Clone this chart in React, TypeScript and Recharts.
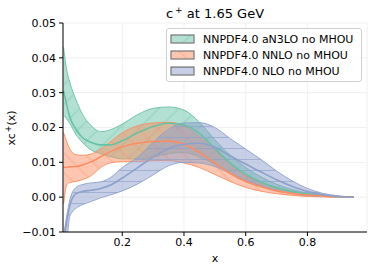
import React from 'react';
import { ComposedChart, Area, Line, XAxis, YAxis, CartesianGrid } from 'recharts';

// x grid
const xs = [0.01, 0.02, 0.03, 0.05, 0.07, 0.1, 0.13, 0.16, 0.2, 0.25, 0.3, 0.35, 0.4, 0.45, 0.5, 0.55, 0.6, 0.65, 0.7, 0.75, 0.8, 0.85, 0.9, 0.95];

// NNPDF4.0 aN3LO no MHOU
const gLo = [0.0235, 0.0225, 0.0212, 0.018, 0.0158, 0.0135, 0.0125, 0.0117, 0.011, 0.011, 0.0115, 0.0125, 0.0128, 0.0115, 0.0095, 0.0068, 0.0045, 0.003, 0.0018, 0.001, 0.0005, 0.0002, 0.0001, 0];
const gMid = [0.0305, 0.0265, 0.023, 0.0195, 0.0172, 0.0157, 0.015, 0.015, 0.0162, 0.0185, 0.0203, 0.0212, 0.0207, 0.0183, 0.014, 0.0098, 0.0066, 0.0043, 0.0027, 0.0016, 0.0009, 0.0004, 0.0001, 0];
const gHi = [0.043, 0.0365, 0.033, 0.028, 0.024, 0.0205, 0.0188, 0.0193, 0.021, 0.0237, 0.0255, 0.0259, 0.025, 0.0215, 0.0165, 0.012, 0.0085, 0.0058, 0.0037, 0.0022, 0.0012, 0.0005, 0.0002, 0];

// NNPDF4.0 NNLO no MHOU
const oLo = [-0.002, 0.0035, 0.0042, 0.0045, 0.005, 0.0062, 0.0085, 0.0098, 0.0102, 0.0102, 0.0105, 0.0105, 0.0098, 0.0085, 0.0065, 0.0045, 0.0028, 0.0017, 0.001, 0.0005, 0.0002, 0.0001, 0, 0];
const oMid = [0.0086, 0.0086, 0.0087, 0.0088, 0.0092, 0.0102, 0.0116, 0.013, 0.0145, 0.0155, 0.016, 0.0161, 0.0152, 0.0128, 0.0098, 0.0068, 0.0045, 0.003, 0.0018, 0.0011, 0.0006, 0.0003, 0.0001, 0];
const oHi = [0.0185, 0.016, 0.0138, 0.0122, 0.012, 0.0124, 0.0138, 0.0158, 0.0185, 0.0205, 0.0213, 0.0215, 0.0205, 0.0175, 0.0135, 0.0095, 0.0062, 0.0042, 0.0027, 0.0017, 0.001, 0.0005, 0.0002, 0];

// NNPDF4.0 NLO no MHOU
const bLo = [-0.018, -0.013, -0.0055, -0.0032, -0.0022, -0.0012, -0.0002, 0.0006, 0.0018, 0.0038, 0.0064, 0.009, 0.01, 0.0098, 0.0088, 0.0068, 0.0048, 0.0032, 0.002, 0.0011, 0.0005, 0.0002, 0.0001, 0];
const bMid = [-0.013, -0.007, -0.0025, 0.001, 0.0016, 0.002, 0.0025, 0.0034, 0.0055, 0.0085, 0.0115, 0.014, 0.0152, 0.0155, 0.0143, 0.0118, 0.0095, 0.0072, 0.005, 0.0031, 0.0016, 0.0007, 0.0002, 0];
const bHi = [-0.011, -0.0055, -0.0008, 0.0028, 0.0036, 0.0041, 0.0044, 0.0055, 0.0085, 0.0115, 0.0158, 0.0195, 0.0213, 0.0214, 0.02, 0.0168, 0.0138, 0.0108, 0.0075, 0.0047, 0.0025, 0.0011, 0.0004, 0];

const xTicks = [0.2, 0.4, 0.6, 0.8];
const yTicks = [-0.01, 0, 0.01, 0.02, 0.03, 0.04, 0.05];

const data = xs.map((x, i) => ({
    x,
    g: [gLo[i], gHi[i]],
    gm: gMid[i],
    o: [oLo[i], oHi[i]],
    om: oMid[i],
    b: [bLo[i], bHi[i]],
    bm: bMid[i],
}));

const FONT = "'DejaVu Sans', sans-serif";

// hatch: 'ne' = "/", 'nw' = "\", 'h' = "-"
const series = [
    { key: 'g', mid: 'gm', label: 'NNPDF4.0 aN3LO no MHOU', color: '#66c2a5', hatch: 'hatchG', kind: 'ne', gap: 14 },
    { key: 'o', mid: 'om', label: 'NNPDF4.0 NNLO no MHOU', color: '#fc8d62', hatch: 'hatchO', kind: 'nw', gap: 14 },
    { key: 'b', mid: 'bm', label: 'NNPDF4.0 NLO no MHOU', color: '#8da0cb', hatch: 'hatchB', kind: 'h', gap: 11 },
];

function Hatches({ suffix = '' }: { suffix?: string }) {
    return (
        <defs>
            {series.map((s) => {
                const g = s.gap;
                const rot = s.kind === 'ne' ? 45 : s.kind === 'nw' ? -45 : 0;
                return (
                    <pattern
                        key={s.hatch}
                        id={s.hatch + suffix}
                        patternUnits="userSpaceOnUse"
                        width={g}
                        height={g}
                        patternTransform={rot ? `rotate(${rot})` : undefined}
                    >
                        <rect width={g} height={g} fill={s.color} fillOpacity={0.5} />
                        {s.kind === 'h' ? (
                            <line x1={0} y1={g / 2} x2={g} y2={g / 2} stroke={s.color} strokeWidth={0.7} strokeOpacity={0.9} />
                        ) : (
                            <line x1={g / 2} y1={0} x2={g / 2} y2={g} stroke={s.color} strokeWidth={0.6} strokeOpacity={0.85} />
                        )}
                    </pattern>
                );
            })}
        </defs>
    );
}

function fmtY(v: number) {
    return v < 0 ? '\u2212' + Math.abs(v).toFixed(2) : v.toFixed(2);
}

export default function App() {
    return (
        <div style={{ position: 'absolute', left: 0, top: 0, width: 374, height: 272, background: '#fff', fontFamily: FONT }}>
            <ComposedChart width={374} height={272} data={data} margin={{ top: 23, right: 7, bottom: 20, left: 23 }}>
                <Hatches />
                <CartesianGrid stroke="#ececec" strokeWidth={0.8} />
                <XAxis
                    type="number"
                    dataKey="x"
                    domain={[0.008, 0.993]}
                    ticks={xTicks}
                    allowDataOverflow
                    tickFormatter={(v) => v.toFixed(1)}
                    height={20}
                    tickSize={4}
                    tickMargin={2}
                    stroke="#000"
                    tick={{ fill: '#000', fontSize: 11, fontFamily: FONT }}
                />
                <YAxis
                    type="number"
                    domain={[-0.01, 0.05]}
                    ticks={yTicks}
                    allowDataOverflow
                    tickFormatter={fmtY}
                    width={40}
                    tickSize={4}
                    tickMargin={3}
                    stroke="#000"
                    tick={{ fill: '#000', fontSize: 11, fontFamily: FONT }}
                />
                {series.map((s) => [
                    <Area
                        key={s.key}
                        dataKey={s.key}
                        type="monotone"
                        fill={`url(#${s.hatch})`}
                        fillOpacity={1}
                        stroke={s.color}
                        strokeWidth={0.9}
                        isAnimationActive={false}
                        dot={false}
                        activeDot={false}
                    />,
                    <Line
                        key={s.mid}
                        dataKey={s.mid}
                        type="monotone"
                        stroke={s.color}
                        strokeWidth={1.6}
                        dot={false}
                        activeDot={false}
                        isAnimationActive={false}
                    />,
                ])}
                <text x={215} y={18} textAnchor="middle" fontSize={13} fontFamily={FONT} fill="#000">
                    c<tspan dx={2} dy={-5} fontSize={9}>+</tspan>
                    <tspan dy={5}> at 1.65 GeV</tspan>
                </text>
                <text x={215} y={262} textAnchor="middle" fontSize={11} fontFamily={FONT} fill="#000">x</text>
                <text
                    x={15}
                    y={128}
                    transform="rotate(-90 15 128)"
                    textAnchor="middle"
                    fontSize={11}
                    fontFamily={FONT}
                    fill="#000"
                >
                    xc<tspan dx={1} dy={-4} fontSize={8}>+</tspan>
                    <tspan dy={4}>(x)</tspan>
                </text>
            </ComposedChart>
            {/* legend */}
            <div
                style={{
                    position: 'absolute',
                    left: 166,
                    top: 28,
                    width: 194,
                    height: 52,
                    border: '1px solid #d0d0d0',
                    borderRadius: 3,
                    background: 'rgba(255,255,255,0.8)',
                }}
            >
                <svg width={194} height={52} style={{ position: 'absolute', left: 0, top: 0 }}>
                    <Hatches suffix="L" />
                    {series.map((s, i) => (
                        <g key={s.key}>
                            <rect
                                x={4}
                                y={6 + i * 16}
                                width={23}
                                height={8}
                                fill={`url(#${s.hatch}L)`}
                                stroke="#777"
                                strokeWidth={1.2}
                            />
                            <text x={36} y={14 + i * 16} fontSize={11} fontFamily={FONT} fill="#000">
                                {s.label}
                            </text>
                        </g>
                    ))}
                </svg>
            </div>
        </div>
    );
}
